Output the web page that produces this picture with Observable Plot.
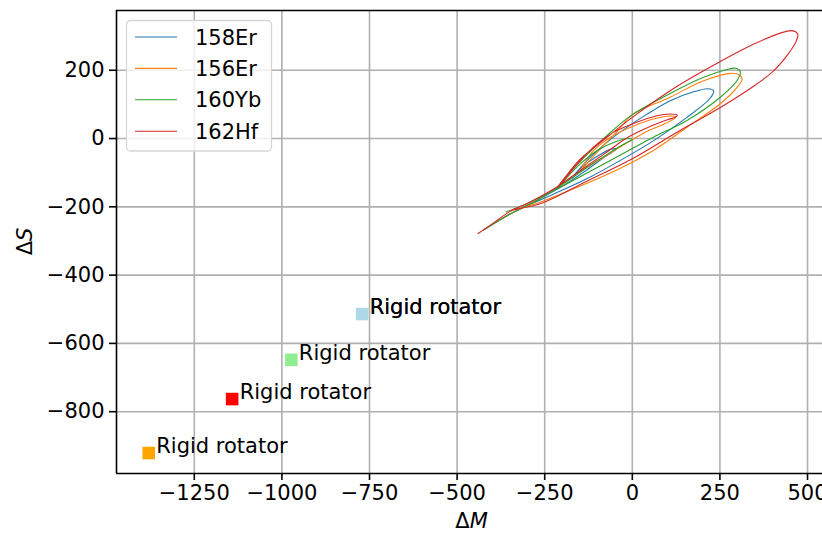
<!DOCTYPE html>
<html>
<head>
<meta charset="utf-8">
<script src="https://cdn.jsdelivr.net/npm/d3@7"></script>
<script src="https://cdn.jsdelivr.net/npm/@observablehq/plot@0.6"></script>
<style>
  html, body { margin: 0; padding: 0; background: white; overflow: hidden; }
  #chart { width: 822px; height: 534px; overflow: hidden; }
</style>
</head>
<body>
<div id="chart"></div>
<script>
// ---- data ----
const names = ["158Er", "156Er", "160Yb", "162Hf"];
const colors = ["#1f77b4", "#ff7f0e", "#2ca02c", "#d62728"];

// [ΔM, ΔS] traces
const er158 = [
  [-415,-262],[-350,-222],[-280,-185],[-200,-140],[-130,-92],[-80,-55],[-52,-36],[-45,-31],
  [-60,-31],[-100,-52],[-150,-90],[-172,-116],[-160,-100],[-110,-45],[-40,15],[40,70],
  [108,111],[175,137],[215,146],[232,140],[222,118],[156,62],[61,-6],[-34,-64],[-130,-118],
  [-230,-165],[-310,-200]
];
const er156 = [
  [-420,-265],[-350,-222],[-280,-185],[-210,-140],[-150,-98],[-90,-60],[-20,-15],[40,20],
  [90,42],[118,57],[124,63],[112,66],[60,57],[0,35],[-60,5],[-110,-35],[-138,-75],[-148,-95],
  [-138,-83],[-100,-40],[-40,25],[0,70],[108,121],[200,168],[280,191],[306,186],[313,173],
  [299,150],[251,102],[156,33],[60,-35],[-40,-90],[-150,-140],[-260,-185],[-330,-208]
];
const yb160 = [
  [-425,-268],[-350,-222],[-275,-183],[-200,-135],[-130,-85],[-70,-45],[-20,-14],[0,-3],
  [-10,0],[-50,-10],[-100,-35],[-160,-85],[-200,-130],[-213,-142],[-195,-118],[-140,-58],
  [-60,20],[0,70],[108,132],[200,178],[270,202],[294,206],[308,197],[299,170],[251,121],
  [156,53],[60,4],[0,-29],[-100,-85],[-200,-140],[-300,-190],[-360,-215]
];
const hf162 = [
  [-440,-278],[-400,-250],[-350,-214],[-290,-185],[-220,-145],[-150,-95],[-80,-45],[-10,5],
  [50,35],[100,55],[124,63],[128,69],[110,72],[70,67],[3,44],[-54,18],[-111,-25],[-170,-90],
  [-205,-135],[-212,-142],[-195,-118],[-150,-62],[-72,4],[0,62],[120,148],[250,225],
  [350,278],[420,308],[455,316],[472,306],[468,286],[445,248],[400,195],[330,142],[250,90],
  [130,20],[0,-59],[-130,-125],[-253,-187],[-320,-205],[-350,-212]
];

// rigid rotator reference points
const rigidM = [-771, -1380, -973, -1142];
const rigidS = [-514, -921, -648, -763];
const rigidColors = ["lightblue", "orange", "lightgreen", "red"];
const rigidLabel = "Rigid rotator";

// axes
const xTicks = [-1250, -1000, -750, -500, -250, 0, 250, 500];
const yTicks = [-800, -600, -400, -200, 0, 200];
const xDomain = [-1472, 557];
const yDomain = [-981, 375];
const xLabel = ["Δ", "M"];
const yLabel = ["Δ", "S"];

// ---- build ----
const W = 822, H = 534;
const mL = 116, mT = 10, mB = 61;
const xRange = [116, 827];
const yRange = [H - mB, mT];

const series = [er158, er156, yb160, hf162].map((pts, i) =>
  pts.map(([m, s]) => ({m, s, name: names[i]})));
const rigid = rigidM.map((m, i) => ({m, s: rigidS[i], c: rigidColors[i]}));

const font = "DejaVu Sans, sans-serif";
const fs = 21;
const fmt = d3.format("d");

const chart = Plot.plot({
  width: W, height: H,
  marginLeft: mL, marginRight: 0, marginTop: mT, marginBottom: mB,
  style: {fontFamily: font, fontSize: fs + "px", background: "white", color: "black", overflow: "hidden"},
  x: {domain: xDomain, range: xRange, label: null},
  y: {domain: yDomain, range: yRange, label: null},
  marks: [
    Plot.gridX(xTicks, {stroke: "#b0b0b0", strokeOpacity: 1, strokeWidth: 1.6}),
    Plot.gridY(yTicks, {stroke: "#b0b0b0", strokeOpacity: 1, strokeWidth: 1.6}),
    ...series.map((d, i) => Plot.line(d, {x: "m", y: "s", stroke: colors[i], strokeWidth: 1.1, curve: "catmull-rom"})),
    Plot.dot(rigid, {x: "m", y: "s", fill: "c", symbol: "square", r: 7.1, stroke: "none"}),
    Plot.text(rigid, {x: "m", y: "s", text: () => rigidLabel, textAnchor: "start", dx: 7.5, dy: -7, fill: "black", fontSize: fs}),
    Plot.text(rigid.slice(0, 1), {x: "m", y: "s", text: () => rigidLabel, textAnchor: "start", dx: 7.5, dy: -7, fill: "black", fontSize: fs}),
    Plot.ruleX([xDomain[0]], {stroke: "black", strokeWidth: 1.6}),
    Plot.ruleY([yDomain[0]], {stroke: "black", strokeWidth: 1.6}),
    Plot.ruleY([yDomain[1]], {stroke: "black", strokeWidth: 1.6}),
    Plot.axisX(xTicks, {tickSize: 7, tickPadding: 5, strokeWidth: 1.6, label: null, fontSize: fs, tickFormat: fmt}),
    Plot.axisY(yTicks, {tickSize: 7, tickPadding: 5, strokeWidth: 1.6, label: null, fontSize: fs, tickFormat: fmt})
  ]
});
document.getElementById("chart").appendChild(chart);

const svg = d3.select(chart);
// axis labels
const xl = svg.append("text").attr("x", (xRange[0] + xRange[1]) / 2).attr("y", 528)
  .attr("text-anchor", "middle").attr("font-family", font).attr("font-size", fs).attr("fill", "black");
xl.append("tspan").text(xLabel[0]);
xl.append("tspan").attr("font-style", "italic").text(xLabel[1]);
const yl = svg.append("text").attr("transform", `translate(32,${(yRange[0] + yRange[1]) / 2}) rotate(-90)`)
  .attr("text-anchor", "middle").attr("font-family", font).attr("font-size", fs).attr("fill", "black");
yl.append("tspan").text(yLabel[0]);
yl.append("tspan").attr("font-style", "italic").text(yLabel[1]);

// legend
const lg = svg.append("g").attr("text-anchor", "start");
lg.append("rect").attr("x", 126.5).attr("y", 20.5).attr("width", 145).attr("height", 130.5)
  .attr("rx", 4).attr("fill", "white").attr("fill-opacity", 0.8).attr("stroke", "#d6d6d6").attr("stroke-width", 1.3);
names.forEach((n, i) => {
  const cy = 37 + i * 31.4;
  lg.append("line").attr("x1", 135).attr("x2", 177).attr("y1", cy).attr("y2", cy)
    .attr("stroke", colors[i]).attr("stroke-width", 1.1);
  lg.append("text").attr("x", 195).attr("y", cy).attr("dy", "0.36em").attr("text-anchor", "start")
    .attr("font-family", font).attr("font-size", fs).attr("fill", "black").text(n);
});
</script>
</body>
</html>
